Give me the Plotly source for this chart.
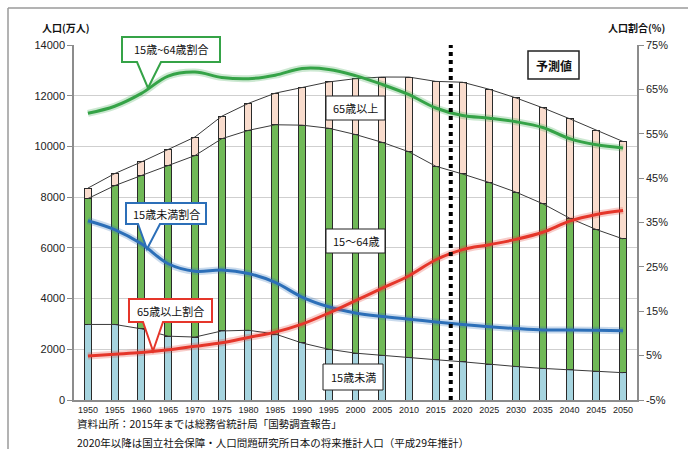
import plotly.graph_objects as go

years = [1950, 1955, 1960, 1965, 1970, 1975, 1980, 1985, 1990, 1995, 2000,
         2005, 2010, 2015, 2020, 2025, 2030, 2035, 2040, 2045, 2050]
under15 = [2979, 2980, 2807, 2517, 2482, 2722, 2751, 2603, 2249, 2001, 1847,
           1752, 1684, 1589, 1507, 1407, 1321, 1246, 1194, 1138, 1077]
working = [4966, 5473, 6047, 6744, 7157, 7581, 7883, 8251, 8590, 8716, 8622,
           8409, 8103, 7629, 7406, 7170, 6875, 6494, 5978, 5584, 5275]
elderly = [411, 475, 535, 624, 733, 887, 1065, 1247, 1489, 1826, 2204,
           2576, 2948, 3347, 3619, 3677, 3716, 3782, 3921, 3919, 3841]
ratio_working = [59.6, 61.2, 64.1, 68.0, 68.9, 67.7, 67.4, 68.2, 69.7, 69.5, 68.1,
                 66.1, 63.8, 60.8, 59.1, 58.5, 57.7, 56.4, 53.9, 52.5, 51.8]
ratio_under15 = [35.4, 33.4, 30.2, 25.7, 24.0, 24.3, 23.5, 21.5, 18.2, 16.0, 14.6,
                 13.8, 13.2, 12.6, 12.0, 11.5, 11.1, 10.8, 10.8, 10.7, 10.6]
ratio_elderly = [4.9, 5.3, 5.7, 6.3, 7.1, 7.9, 9.1, 10.3, 12.1, 14.6, 17.4,
                 20.2, 23.0, 26.6, 28.9, 30.0, 31.2, 32.8, 35.3, 36.8, 37.7]
left_ticks = [0, 2000, 4000, 6000, 8000, 10000, 12000, 14000]
right_ticks = [-5, 5, 15, 25, 35, 45, 55, 65, 75]

cum1 = under15
cum2 = [a + b for a, b in zip(under15, working)]
cum3 = [a + b + c for a, b, c in zip(under15, working, elderly)]

JP = "Noto Sans CJK JP"
NUM = "Liberation Sans Narrow, Arial Narrow, Liberation Sans, sans-serif"

# plot area in pixels
L, R, T, B = 74, 637, 45, 400
W, H = R - L, B - T


def px(x):
    return (x - L) / W


def py(y):
    return (B - y) / H


fig = go.Figure()
bar_line = dict(color="#2a2a2a", width=1)
fig.add_trace(go.Bar(x=years, y=under15, width=1.3, marker=dict(color="#a6d4df", line=bar_line)))
fig.add_trace(go.Bar(x=years, y=working, width=1.3, marker=dict(color="#70b957", line=bar_line)))
fig.add_trace(go.Bar(x=years, y=elderly, width=1.3, marker=dict(color="#f9dccd", line=bar_line)))

for cum in (cum1, cum2, cum3):
    fig.add_trace(go.Scatter(x=years, y=cum, mode="lines",
                             line=dict(color="#3a3a3a", width=1)))

for vals, col, glow in ((ratio_working, "#35a347", "rgba(53,163,71,0.25)"),
                        (ratio_under15, "#2c6fb8", "rgba(44,111,184,0.25)"),
                        (ratio_elderly, "#e5362a", "rgba(229,54,42,0.25)")):
    fig.add_trace(go.Scatter(x=years, y=vals, yaxis="y2", mode="lines",
                             line=dict(color=glow, width=7, shape="spline", smoothing=1.0)))
    fig.add_trace(go.Scatter(x=years, y=vals, yaxis="y2", mode="lines",
                             line=dict(color=col, width=3, shape="spline", smoothing=1.0)))

shapes = []
# outer frame (top and left)
shapes.append(dict(type="line", xref="paper", yref="paper", x0=px(8), x1=px(700),
                   y0=py(8), y1=py(8), line=dict(color="#9a9a9a", width=1.5)))
shapes.append(dict(type="line", xref="paper", yref="paper", x0=px(8), x1=px(8),
                   y0=py(8), y1=py(449), line=dict(color="#9a9a9a", width=1.5)))
# forecast divider
shapes.append(dict(type="line", xref="x", yref="paper", x0=2017.8, x1=2017.8,
                   y0=0, y1=1, line=dict(color="black", width=4, dash="dot")))


def bubble(box, base, tip, color, width):
    l, t, r, b = box
    b0, b1 = base
    tx, ty = tip
    pts = [(l, t), (r, t), (r, b), (b1, b), (tx, ty), (b0, b), (l, b)]
    path = "M " + " L ".join(f"{px(x):.5f},{py(y):.5f}" for x, y in pts) + " Z"
    shapes.append(dict(type="path", xref="paper", yref="paper", path=path,
                       fillcolor="white", line=dict(color=color, width=width)))


def box(rect, color, width):
    l, t, r, b = rect
    shapes.append(dict(type="rect", xref="paper", yref="paper", x0=px(l), x1=px(r),
                       y0=py(b), y1=py(t), fillcolor="white",
                       line=dict(color=color, width=width)))


bubble((122, 37, 220, 62), (137, 161), (148, 88), "#35a347", 2)
bubble((126, 203, 206, 224), (138, 160), (147, 249), "#2c6fb8", 2)
bubble((129, 299, 212, 322), (143, 163), (153, 351), "#e5362a", 2)
box((326, 96, 385, 120), "#222", 1)
box((326, 229, 385, 253), "#222", 1)
box((323, 364, 383, 390), "#222", 1)
box((528, 51, 579, 79), "#222", 1.5)

annotations = []


def label(x, y, text, size=11, bold=False, xanchor="center"):
    t = f"<b>{text}</b>" if bold else text
    annotations.append(dict(x=px(x), y=py(y), xref="paper", yref="paper", text=t,
                            showarrow=False, xanchor=xanchor, yanchor="middle",
                            font=dict(family=JP, size=size, color="#111")))


label(171, 49.5, "15歳~64歳割合")
label(166, 213.5, "15歳未満割合")
label(170.5, 310.5, "65歳以上割合")
label(355.5, 108, "65歳以上")
label(355.5, 241, "15〜64歳")
label(353, 377, "15歳未満")
label(553.5, 65, "予測値", size=12, bold=True)
label(40, 27, "人口(万人)", size=10, bold=True, xanchor="left")
label(667, 27, "人口割合(%)", size=10, bold=True, xanchor="right")
label(75, 424, "資料出所：2015年までは総務省統計局「国勢調査報告」", size=10.5, xanchor="left")
label(75, 442, "2020年以降は国立社会保障・人口問題研究所日本の将来推計人口（平成29年推計）",
      size=10.5, xanchor="left")

fig.update_layout(
    width=688, height=456,
    margin=dict(l=L, r=688 - R, t=T, b=456 - B, pad=0),
    paper_bgcolor="white", plot_bgcolor="white",
    barmode="stack", showlegend=False,
    shapes=shapes, annotations=annotations,
    xaxis=dict(range=[1947.4, 2052.6], tickvals=years, ticktext=[str(y) for y in years],
               showgrid=False, zeroline=False, showline=True, linecolor="#8c8c8c",
               linewidth=1.5, ticks="", tickfont=dict(family=NUM, size=9, color="#222")),
    yaxis=dict(range=[0, 14000], tickvals=left_ticks, ticktext=[str(v) for v in left_ticks],
               showgrid=True, gridcolor="#cfcfcf",
               gridwidth=1, zeroline=False, showline=True, linecolor="#8c8c8c", linewidth=1.5,
               ticks="outside", ticklen=5, tickcolor="#8c8c8c", automargin=False,
               tickfont=dict(family=NUM, size=11, color="#222")),
    yaxis2=dict(range=[-5, 75], tickvals=right_ticks, ticktext=[f"{v}%" for v in right_ticks],
                overlaying="y", side="right", showgrid=False, zeroline=False, showline=True,
                linecolor="#8c8c8c", linewidth=1.5, ticks="outside", ticklen=5,
                tickcolor="#8c8c8c", automargin=False,
                tickfont=dict(family=NUM, size=11, color="#222")),
)

fig.write_html("out.html")
